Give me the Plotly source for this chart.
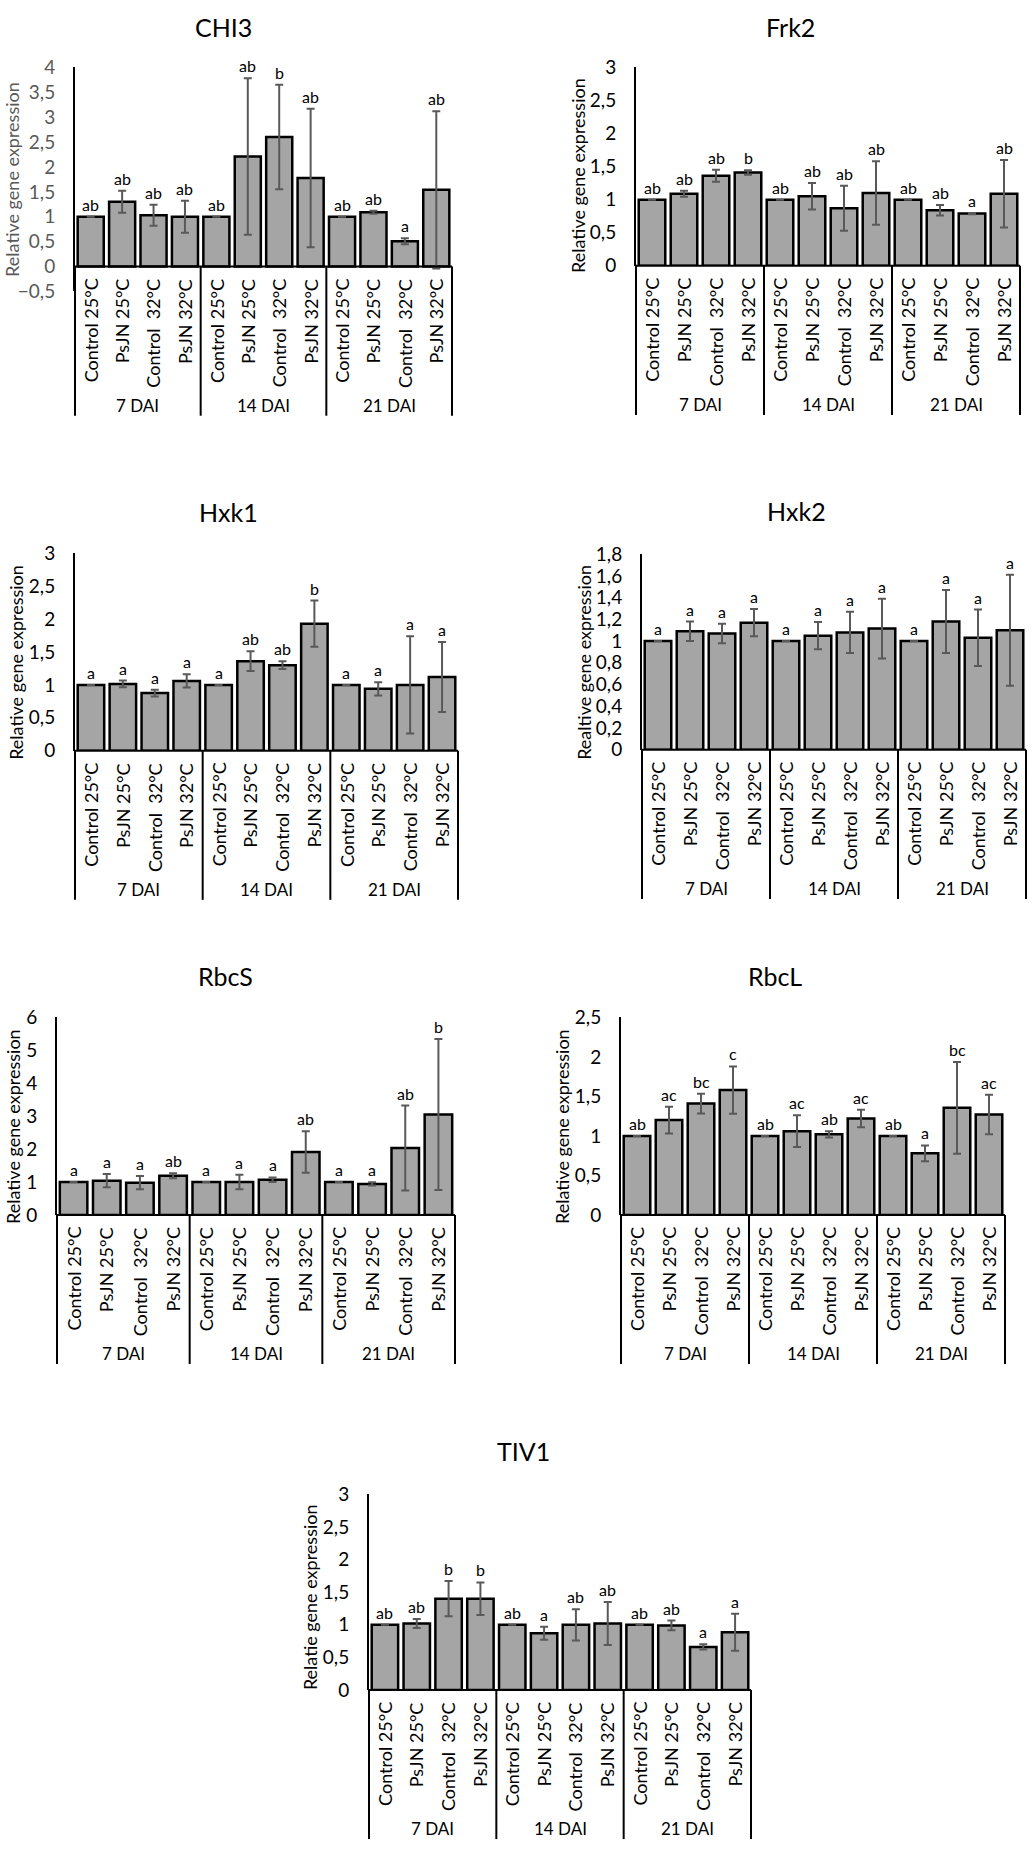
import plotly.graph_objects as go

W, H = 1033, 1857

groups = ["7 DAI", "14 DAI", "21 DAI"]
conditions = ["Control 25°C", "PsJN 25°C", "Control\u00a0 32°C", "PsJN 32°C"]

# relative expression (mean), error and significance letters per gene
chi3_mean = [1.00, 1.30, 1.03, 1.00, 1.00, 2.21, 2.60, 1.78, 1.00, 1.09, 0.51, 1.54]
chi3_err = [0.00, 0.22, 0.21, 0.32, 0.00, 1.57, 1.05, 1.39, 0.00, 0.03, 0.06, 1.58]
chi3_letters = ["ab", "ab", "ab", "ab", "ab", "ab", "b", "ab", "ab", "ab", "a", "ab"]

frk2_mean = [1.00, 1.09, 1.36, 1.41, 1.00, 1.05, 0.87, 1.10, 1.00, 0.84, 0.79, 1.09]
frk2_err = [0.00, 0.045, 0.09, 0.035, 0.00, 0.20, 0.34, 0.48, 0.00, 0.08, 0.01, 0.51]
frk2_letters = ["ab", "ab", "ab", "b", "ab", "ab", "ab", "ab", "ab", "ab", "a", "ab"]

hxk1_mean = [1.00, 1.015, 0.875, 1.06, 1.00, 1.36, 1.30, 1.93, 1.00, 0.94, 1.00, 1.12]
hxk1_err = [0.00, 0.05, 0.05, 0.10, 0.00, 0.15, 0.06, 0.35, 0.00, 0.10, 0.74, 0.53]
hxk1_letters = ["a", "a", "a", "a", "a", "ab", "ab", "b", "a", "a", "a", "a"]

hxk2_mean = [1.00, 1.09, 1.07, 1.17, 1.00, 1.05, 1.08, 1.115, 1.00, 1.18, 1.03, 1.10]
hxk2_err = [0.00, 0.09, 0.09, 0.125, 0.00, 0.125, 0.19, 0.275, 0.00, 0.29, 0.26, 0.51]
hxk2_letters = ["a"] * 12

rbcs_mean = [1.00, 1.04, 0.98, 1.19, 1.00, 1.00, 1.07, 1.91, 1.00, 0.94, 2.03, 3.05]
rbcs_err = [0.00, 0.20, 0.20, 0.075, 0.00, 0.22, 0.07, 0.63, 0.00, 0.05, 1.29, 2.29]
rbcs_letters = ["a", "a", "a", "ab", "a", "a", "a", "ab", "a", "a", "ab", "b"]

rbcl_mean = [1.00, 1.20, 1.41, 1.58, 1.00, 1.06, 1.02, 1.22, 1.00, 0.78, 1.355, 1.27]
rbcl_err = [0.00, 0.17, 0.125, 0.30, 0.00, 0.20, 0.04, 0.11, 0.00, 0.10, 0.58, 0.25]
rbcl_letters = ["ab", "ac", "bc", "c", "ab", "ac", "ab", "ac", "ab", "a", "bc", "ac"]

tiv1_mean = [1.00, 1.02, 1.40, 1.40, 1.00, 0.87, 1.00, 1.02, 1.00, 0.99, 0.66, 0.885]
tiv1_err = [0.00, 0.07, 0.27, 0.25, 0.00, 0.10, 0.24, 0.33, 0.00, 0.075, 0.04, 0.285]
tiv1_letters = ["ab", "ab", "b", "b", "ab", "a", "ab", "ab", "ab", "ab", "a", "a"]

# gene, data, y title, y range, dtick, plot box px (left, right, top, bottom), title centre px, y-title centre px, tick colour
panels = [
    ("CHI3", chi3_mean, chi3_err, chi3_letters, "Relative gene expression", [-0.5, 4], 0.5,
     (75, 452, 56, 283), (223, 15), (12, 170), "#595959"),
    ("Frk2", frk2_mean, frk2_err, frk2_letters, "Relative gene expression", [0, 3], 0.5,
     (636, 1020, 56, 257), (790, 15), (578, 166), "black"),
    ("Hxk1", hxk1_mean, hxk1_err, hxk1_letters, "Relative gene expression", [0, 3], 0.5,
     (75, 458, 548, 748), (228, 506), (16, 659), "black"),
    ("Hxk2", hxk2_mean, hxk2_err, hxk2_letters, "Realtive gene expression", [0, 1.8], 0.2,
     (642, 1026, 549, 747), (796, 505), (584, 659), "black"),
    ("RbcS", rbcs_mean, rbcs_err, rbcs_letters, "Relative gene expression", [0, 6], 1,
     (57, 455, 1018, 1218), (225, 976), (13, 1129), "black"),
    ("RbcL", rbcl_mean, rbcl_err, rbcl_letters, "Relative gene expression", [0, 2.5], 0.5,
     (621, 1005, 1018, 1218), (775, 976), (562, 1129), "black"),
    ("TIV1", tiv1_mean, tiv1_err, tiv1_letters, "Relatie gene expression", [0, 3], 0.5,
     (369, 751, 1501, 1699), (523, 1457), (310, 1605), "black"),
]

FONT = "Lato, 'Open Sans', sans-serif"
BOX_DEPTH = 151  # px the category box hangs below the zero line

n_cat = len(groups) * len(conditions)
x_pos = list(range(n_cat))
cat_labels = conditions * len(groups)
bounds = [g * len(conditions) - 0.5 for g in range(len(groups) + 1)]

fig = go.Figure()
shapes = []
annotations = []

for k, (gene, mean, err, letters, ytitle, yr, dt, box, tpos, ypos, tcol) in enumerate(panels, start=1):
    xa = "x" if k == 1 else f"x{k}"
    ya = "y" if k == 1 else f"y{k}"
    left, right, top, bottom = box

    fig.add_trace(go.Bar(
        x=x_pos, y=mean,
        error_y=dict(type="data", array=err, visible=True, color="#595959", thickness=2, width=4),
        marker=dict(color="#A5A5A5", line=dict(color="black", width=2.5)),
        xaxis=xa, yaxis=ya, showlegend=False, hoverinfo="y",
    ))

    fig.update_layout(**{
        ("xaxis" if k == 1 else f"xaxis{k}"): dict(
            domain=[left / W, right / W], range=[bounds[0], bounds[-1]], anchor=ya,
            showticklabels=False, showgrid=False, zeroline=False, showline=False, fixedrange=True),
        ("yaxis" if k == 1 else f"yaxis{k}"): dict(
            domain=[1 - bottom / H, 1 - top / H], range=[yr[0], yr[1] + 1e-9], anchor=xa,
            tickmode="linear", tick0=0, dtick=dt, showgrid=False, zeroline=False,
            showline=True, linecolor="black", linewidth=2,
            ticks="outside", ticklen=14, tickcolor="rgba(0,0,0,0)",
            tickfont=dict(size=19, color=tcol, family=FONT), fixedrange=True),
    })

    # category axis line and the group box below it (paper coords so they are not clipped)
    zero_px = top + yr[1] / (yr[1] - yr[0]) * (bottom - top)

    def x_paper(v):
        return (left + (v - bounds[0]) / (bounds[-1] - bounds[0]) * (right - left)) / W

    shapes.append(dict(type="line", xref="paper", yref="paper",
                       x0=x_paper(bounds[0]), x1=x_paper(bounds[-1]),
                       y0=1 - zero_px / H, y1=1 - zero_px / H,
                       line=dict(color="black", width=2)))
    for b in bounds:
        shapes.append(dict(type="line", xref="paper", yref="paper",
                           x0=x_paper(b), x1=x_paper(b),
                           y0=1 - zero_px / H, y1=1 - (zero_px + BOX_DEPTH) / H,
                           line=dict(color="black", width=2)))

    # titles
    annotations.append(dict(xref="paper", yref="paper", x=tpos[0] / W, y=1 - tpos[1] / H,
                            text=gene, showarrow=False, xanchor="center", yanchor="middle",
                            font=dict(size=25, color="black", family=FONT)))
    annotations.append(dict(xref="paper", yref="paper", x=ypos[0] / W, y=1 - ypos[1] / H,
                            text=ytitle, showarrow=False, textangle=-90, xanchor="center", yanchor="middle",
                            font=dict(size=18, color=tcol, family=FONT)))

    for i in x_pos:
        annotations.append(dict(xref=xa, yref=ya, x=i, y=mean[i] + err[i], text=letters[i],
                                showarrow=False, xanchor="center", yanchor="bottom", yshift=1,
                                font=dict(size=16, color="black", family=FONT)))
        annotations.append(dict(xref=xa, yref=ya, x=i, y=0, text=cat_labels[i], showarrow=False,
                                textangle=-90, xanchor="center", yanchor="top", yshift=-10,
                                font=dict(size=18, color="black", family=FONT)))
    for g, name in enumerate(groups):
        annotations.append(dict(xref=xa, yref=ya, x=(bounds[g] + bounds[g + 1]) / 2, y=0, text=name,
                                showarrow=False, xanchor="center", yanchor="middle", yshift=-(BOX_DEPTH - 12),
                                font=dict(size=17, color="black", family=FONT)))

fig.update_layout(
    width=W, height=H,
    margin=dict(l=0, r=0, t=0, b=0),
    paper_bgcolor="white", plot_bgcolor="white",
    separators=",.",
    bargap=0.17,
    font=dict(family=FONT, color="black"),
    shapes=shapes, annotations=annotations,
)

# drop the default page margin so the figure sits at the window origin
fig.write_html("out.html", config={"displayModeBar": False},
               post_script="document.body.style.margin='0';")
